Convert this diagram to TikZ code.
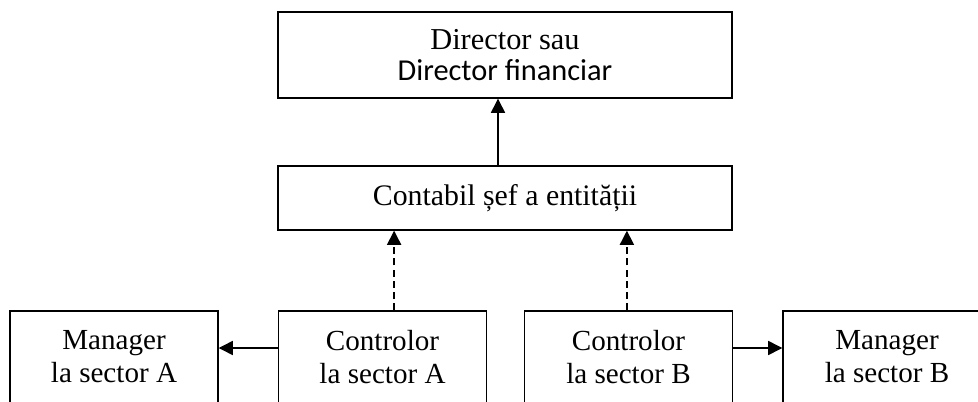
\documentclass[tikz,border=0pt]{standalone}
\usepackage{fontspec}
\setmainfont{Liberation Serif}
\newfontfamily\calfont{Carlito}
\usetikzlibrary{arrows.meta}

\tikzset{
  box/.style={draw, line width=1pt, align=center, inner sep=0pt,
    font=\fontsize{20.7}{23.5}\selectfont},
  arr/.style={line width=1pt, -{Triangle[length=10pt,width=10pt]}},
  dasharr/.style={arr, dash pattern=on 5pt off 3pt}
}

\begin{document}
\begin{tikzpicture}[x=0.025cm,y=-0.025cm]
\useasboundingbox (0,0) rectangle (978,401);
\node[box, minimum width=11.35cm, minimum height=2.15cm,
  font=\fontsize{21.6}{22}\selectfont] (dir) at (505,55)
  {Director sau\\{\calfont Director financiar}};
\node[box, minimum width=11.35cm, minimum height=1.6cm,
  font=\fontsize{21.2}{26}\selectfont] (chief) at (505,198)
  {Contabil șef a entității};
\node[box, minimum width=5.2cm, minimum height=2.3cm] (mgrA) at (114,357)
  {Manager\\la sector A};
\node[box, minimum width=5.2cm, minimum height=2.3cm] (ctrlA) at (382.5,357)
  {Controlor\\la sector A};
\node[box, minimum width=5.2cm, minimum height=2.3cm] (ctrlB) at (628.5,357)
  {Controlor\\la sector B};
\node[box, minimum width=5.2cm, minimum height=2.3cm] (mgrB) at (887,357)
  {Manager\\la sector B};
\draw[arr] ([xshift=-0.175cm]chief.north) -- ([xshift=-0.175cm]dir.south);
\draw[dasharr] ([xshift=0.29cm]ctrlA.north) -- ([xshift=0.29cm]ctrlA.north |- chief.south);
\draw[dasharr] ([xshift=-0.04cm]ctrlB.north) -- ([xshift=-0.04cm]ctrlB.north |- chief.south);
\draw[arr] ([yshift=0.225cm]ctrlA.west) -- ([yshift=0.225cm]mgrA.east);
\draw[arr] ([yshift=0.225cm]ctrlB.east) -- ([yshift=0.225cm]mgrB.west);
\end{tikzpicture}
\end{document}
